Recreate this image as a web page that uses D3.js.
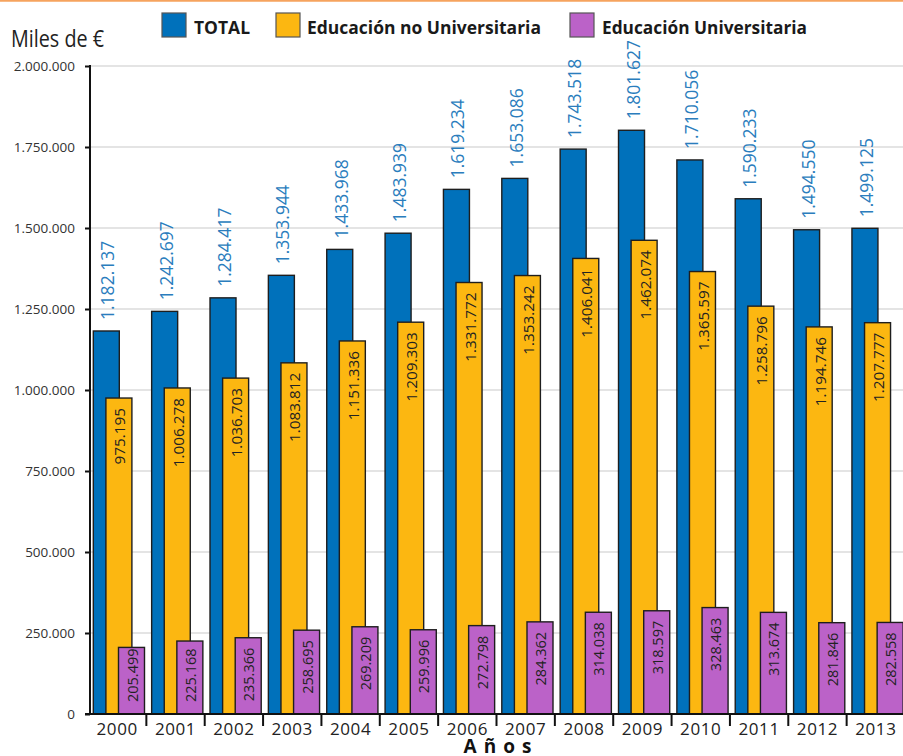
<!DOCTYPE html>
<html><head><meta charset="utf-8">
<script src="https://cdn.jsdelivr.net/npm/d3@7"></script>
<style>body{margin:0;background:#fff;} svg{display:block;font-family:"Open Sans",sans-serif;}</style>
</head><body>
<svg id="chart" width="903" height="756"></svg>
<script>
const years = ["2000","2001","2002","2003","2004","2005","2006","2007","2008","2009","2010","2011","2012","2013"];
const total = [1182137,1242697,1284417,1353944,1433968,1483939,1619234,1653086,1743518,1801627,1710056,1590233,1494550,1499125];
const noUniv = [975195,1006278,1036703,1083812,1151336,1209303,1331772,1353242,1406041,1462074,1365597,1258796,1194746,1207777];
const univ = [205499,225168,235366,258695,269209,259996,272798,284362,314038,318597,328463,313674,281846,282558];
const yTicks = [0,250000,500000,750000,1000000,1250000,1500000,1750000,2000000];
const seriesNames = ["TOTAL","Educación no Universitaria","Educación Universitaria"];
const colors = ["#0071bb","#fcb711","#bb62c8"];
const yTitle = "Miles de €";
const xTitle = "Años";

const svg = d3.select("#chart");
const loc = d3.formatLocale({decimal:",", thousands:".", grouping:[3], currency:["","€"]});
const fmt = loc.format(",d");

const x = d3.scaleBand().domain(years).range([88,905]).padding(0);
const sub = d3.scaleLinear().domain([0,2]).range([5.3,30.5]);
const barW = 26;
const y = d3.scaleLinear().domain([0,2000000]).range([714,66]);

// top orange rule
svg.append("line").attr("x1",0).attr("x2",903).attr("y1",0.8).attr("y2",0.8)
  .attr("stroke","#f6a35e").attr("stroke-width",2);

// gridlines
svg.append("g").selectAll("line").data(yTicks.filter(d=>d>0)).join("line")
  .attr("x1",90).attr("x2",903).attr("y1",d=>y(d)).attr("y2",d=>y(d))
  .attr("stroke","#c9c9c9").attr("stroke-width",1.2);

// y axis
const yAxis = d3.axisLeft(y).tickValues(yTicks).tickFormat(fmt).tickSize(5).tickPadding(10);
const yg = svg.append("g").attr("transform","translate(90,0)").call(yAxis);
yg.select(".domain").remove();
yg.selectAll(".tick line").attr("stroke","#111").attr("stroke-width",2);
yg.selectAll(".tick text").attr("font-size",13.5).attr("fill","#333").attr("font-family","Open Sans");
svg.append("line").attr("x1",90).attr("x2",90).attr("y1",y(2000000)-1).attr("y2",y(0))
  .attr("stroke","#111").attr("stroke-width",2);

// bars
const seriesData = [total, noUniv, univ];
seriesData.forEach((vals,si)=>{
  svg.append("g").selectAll("rect").data(vals).join("rect")
    .attr("x",(d,i)=>x(years[i])+sub(si))
    .attr("width",barW)
    .attr("y",d=>y(d))
    .attr("height",d=>y(0)-y(d))
    .attr("fill",colors[si])
    .attr("stroke","#1e1e1e").attr("stroke-width",1.4);
});

// labels: total (above)
svg.append("g").selectAll("text").data(total).join("text")
  .attr("transform",(d,i)=>`translate(${x(years[i])+sub(0)+barW/2+1},${y(d)-11}) rotate(-90)`)
  .attr("dominant-baseline","central")
  .attr("text-anchor","start")
  .attr("font-size",17.5).attr("fill","#2a7dbd")
  .text(d=>fmt(d));

// labels: no universitaria (inside end)
svg.append("g").selectAll("text").data(noUniv).join("text")
  .attr("transform",(d,i)=>`translate(${x(years[i])+sub(1)+barW/2+0.5},${y(d)+10}) rotate(-90)`)
  .attr("dominant-baseline","central")
  .attr("text-anchor","end")
  .attr("font-size",15.3).attr("fill","#222")
  .text(d=>fmt(d));

// labels: universitaria (inside end, clamped)
const ug = svg.append("g");
univ.forEach((d,i)=>{
  const t = ug.append("text")
    .attr("dominant-baseline","central")
    .attr("text-anchor","end")
    .attr("font-size",14.5).attr("fill","#222")
    .text(fmt(d));
  const len = t.node().getComputedTextLength();
  const yTop = Math.min(y(d)+10, y(0)-12-len);
  t.attr("transform",`translate(${x(years[i])+sub(2)+barW/2+0.5},${yTop}) rotate(-90)`);
});

// x axis
const xAxis = d3.axisBottom(x).tickSize(0).tickPadding(9);
const xg = svg.append("g").attr("transform","translate(0,714)").call(xAxis);
xg.select(".domain").remove();
xg.selectAll(".tick text").attr("font-size",17).attr("letter-spacing",0.6)
  .attr("fill","#222").attr("font-family","Open Sans");
svg.append("line").attr("x1",85).attr("x2",903).attr("y1",714).attr("y2",714)
  .attr("stroke","#111").attr("stroke-width",2);
svg.append("g").selectAll("line").data(years.slice(1)).join("line")
  .attr("x1",d=>x(d)).attr("x2",d=>x(d)).attr("y1",714).attr("y2",726)
  .attr("stroke","#111").attr("stroke-width",2);

// axis titles
svg.append("text").attr("x",11).attr("y",47).attr("font-size",23)
  .attr("textLength",93).attr("lengthAdjust","spacingAndGlyphs")
  .attr("fill","#222").text(yTitle);
svg.append("text").attr("x",501).attr("y",753).attr("text-anchor","middle")
  .attr("font-size",19).attr("font-weight","bold").attr("letter-spacing",7)
  .attr("fill","#111").text(xTitle);

// legend
const legX = [162,276,570];
const legTX = [194,307,602];
const legTW = [56,234,205];
const lg = svg.append("g");
seriesNames.forEach((n,i)=>{
  lg.append("rect").attr("x",legX[i]).attr("y",13).attr("width",24).attr("height",24)
    .attr("fill",colors[i]).attr("stroke","#555").attr("stroke-width",1.2);
  lg.append("text").attr("x",legTX[i]).attr("y",34).attr("font-size",17).attr("font-weight",700)
    .attr("textLength",legTW[i]).attr("lengthAdjust","spacingAndGlyphs")
    .attr("fill","#1a1a1a").text(n);
});
</script>
</body></html>
